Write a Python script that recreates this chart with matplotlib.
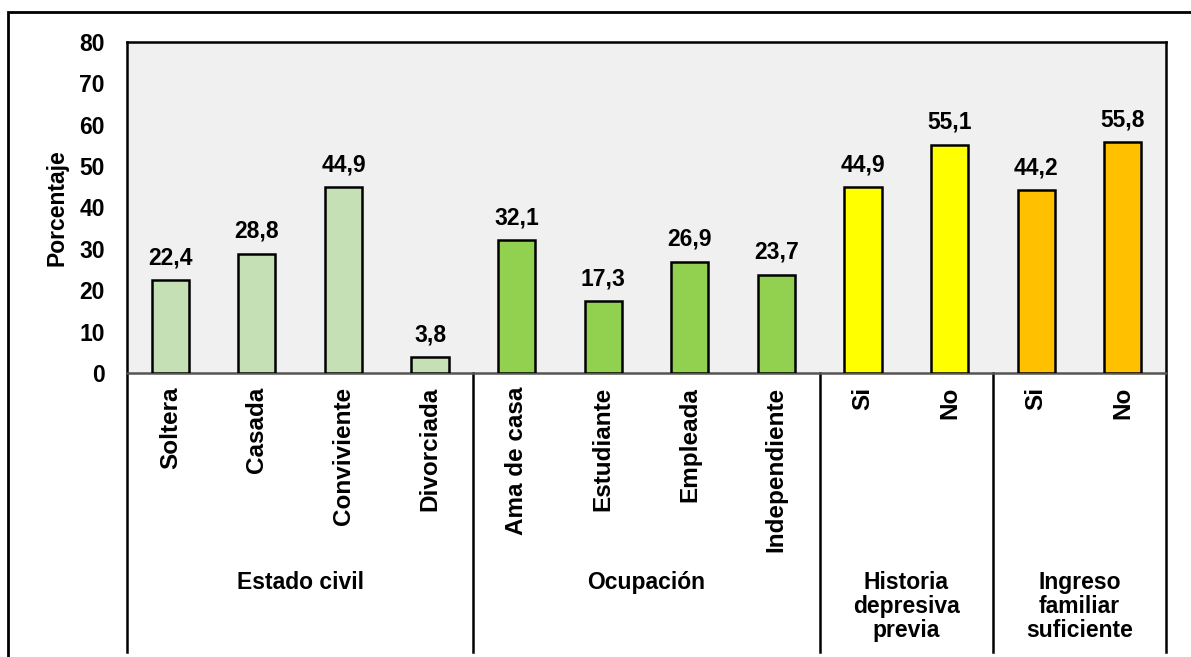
import matplotlib
matplotlib.use('Agg')
import matplotlib.pyplot as plt
from matplotlib.patches import Rectangle

plt.rcParams['font.family'] = ['Liberation Sans', 'DejaVu Sans']
plt.rcParams['font.weight'] = 'bold'

categories = ['Soltera', 'Casada', 'Conviviente', 'Divorciada',
              'Ama de casa', 'Estudiante', 'Empleada', 'Independiente',
              'Si', 'No', 'Si', 'No']
values = [22.4, 28.8, 44.9, 3.8, 32.1, 17.3, 26.9, 23.7, 44.9, 55.1, 44.2, 55.8]
value_labels = ['22,4', '28,8', '44,9', '3,8', '32,1', '17,3', '26,9', '23,7',
                '44,9', '55,1', '44,2', '55,8']
groups = ['Estado civil', 'Ocupación', 'Historia\ndepresiva\nprevia',
          'Ingreso\nfamiliar\nsuficiente']
group_sizes = [4, 4, 2, 2]
group_colors = ['#C5E0B4', '#92D050', '#FFFF00', '#FFC000']

fig = plt.figure(figsize=(11.91, 6.57), dpi=100)
ax = fig.add_axes([127 / 1191, 1 - 373 / 657, (1166 - 127) / 1191, (373 - 42) / 657])
ax.set_facecolor('#F0F0F0')

colors = []
for c, n in zip(group_colors, group_sizes):
    colors += [c] * n

x = list(range(len(categories)))
ax.bar(x, values, width=0.43, color=colors, edgecolor='black', linewidth=1.8, zorder=3)
for xi, v, lab in zip(x, values, value_labels):
    ax.annotate(lab, (xi, v), xytext=(0, 8), textcoords='offset points',
                ha='center', va='bottom', fontsize=16.5, fontweight='bold')

ax.set_xlim(-0.5, len(categories) - 0.5)
ax.set_ylim(0, 80)
ax.set_yticks(range(0, 81, 10))
ax.tick_params(axis='y', length=0, labelsize=16.5, pad=16)
ax.set_xticks([])
ax.set_ylabel('Porcentaje', fontsize=16.5, fontweight='bold', labelpad=8)
for s in ['top', 'left', 'right']:
    ax.spines[s].set_linewidth(1.8)
ax.spines['bottom'].set_linewidth(1.8)
ax.spines['bottom'].set_color('#555555')

# category labels below the axis
for xi, lab in zip(x, categories):
    ax.text(xi, -3.3, lab, rotation=90, ha='center', va='top', fontsize=17.5,
            fontweight='bold')

# group separators and group labels
bottom = -(652 - 373) / 331 * 80
start = 0
bounds = [-0.5]
for g, n in zip(groups, group_sizes):
    mid = start + (n - 1) / 2
    ax.text(mid, -(571 - 373) / 331 * 80, g, ha='center', va='top', fontsize=16.5,
            fontweight='bold', linespacing=1.05)
    start += n
    bounds.append(start - 0.5)
for b in bounds:
    ax.plot([b, b], [0, bottom], color='black', linewidth=1.8, clip_on=False)

# outer frame
fig.patches.append(Rectangle((8 / 1191, -0.05), 1.1, 1 - 12 / 657 + 0.05,
                             transform=fig.transFigure, fill=False,
                             edgecolor='black', linewidth=2))

fig.savefig('out.png', dpi=100)
